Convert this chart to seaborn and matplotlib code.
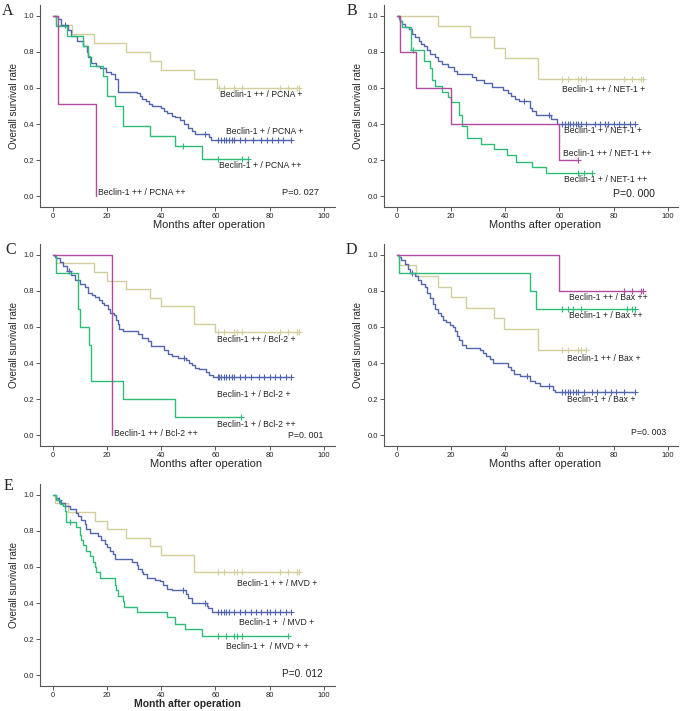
import numpy as np
import matplotlib
matplotlib.use("Agg")
import matplotlib.pyplot as plt
import seaborn as sns

# ---- colours of the four groups
TAN = "#d3cf9c"
BLUE = "#5266b0"
GREEN = "#2dbd78"
MAGENTA = "#b04c9c"

# ---- Panel A : Beclin-1 / PCNA
A_tan_t = [0, 1, 7, 15, 27, 36, 40, 52, 60.5]
A_tan_s = [1.0, 0.95, 0.90, 0.85, 0.80, 0.75, 0.70, 0.65, 0.60]
A_tan_c = [61.5, 63, 67, 70, 84, 87, 90, 91]
A_blue_t = [0, 2, 3, 5.5, 6.5, 9, 11, 12.5, 13, 14, 16, 17.5, 19.5, 21.5, 23, 24, 31, 32, 33,
            34.5, 35.5, 36.5, 40, 41, 42, 44, 45, 47, 48.5, 50, 51.5, 52.5, 57.5, 58.5]
A_blue_s = [1.0, 0.98, 0.95, 0.92, 0.89, 0.86, 0.83, 0.80, 0.77, 0.74, 0.72, 0.71, 0.69, 0.68,
            0.65, 0.58, 0.57, 0.555, 0.54, 0.525, 0.51, 0.50, 0.49, 0.475, 0.46, 0.445, 0.44,
            0.42, 0.40, 0.38, 0.36, 0.345, 0.33, 0.31]
A_blue_c = [4.5, 56, 61, 62, 63, 64, 65, 66, 67, 69, 71, 74, 77, 79, 81, 83, 85, 88]
A_green_t = [0, 1, 5, 11, 13, 13.7, 18.5, 20, 23, 26, 36, 45, 55]
A_green_s = [1.0, 0.944, 0.889, 0.833, 0.778, 0.722, 0.667, 0.556, 0.50, 0.389, 0.333, 0.278, 0.208]
A_green_c = [48, 61, 70, 72]
A_mag_t = [0, 2, 16]
A_mag_s = [1.0, 0.51, 0.0]
A_mag_c = []
A_labels = ["Beclin-1 ++ / PCNA +", "Beclin-1 + / PCNA +", "Beclin-1 + / PCNA ++",
            "Beclin-1 ++ / PCNA ++", "P=0. 027"]

# ---- Panel B : Beclin-1 / NET-1
B_tan_t = [0, 15, 27, 36, 40, 52]
B_tan_s = [1.0, 0.941, 0.882, 0.824, 0.765, 0.647]
B_tan_c = [61, 63, 67, 68, 70, 84, 87, 90, 91]
B_blue_t = [0, 0.6, 1.2, 1.8, 3, 4.3, 5.5, 6.7, 8, 9, 9.8, 11, 12.3, 14, 15.3, 16.6, 19, 21, 22,
            27.6, 29, 32, 35, 39, 41, 42, 43.5, 45, 49, 50, 51.5, 57, 59]
B_blue_s = [1.0, 0.985, 0.97, 0.955, 0.94, 0.925, 0.90, 0.88, 0.86, 0.845, 0.83, 0.81, 0.79,
            0.77, 0.75, 0.735, 0.715, 0.695, 0.675, 0.66, 0.645, 0.625, 0.605, 0.59, 0.57,
            0.555, 0.54, 0.525, 0.49, 0.47, 0.45, 0.43, 0.40]
B_blue_c = [47, 56, 61, 62, 63, 64, 65, 66, 67, 68, 70, 73, 75, 77, 78, 80, 82, 84, 86, 88]
B_green_t = [0, 1, 2, 5, 9.8, 12, 13, 14, 16.5, 19, 20, 23, 24, 26, 31, 36, 40.5, 44, 50, 55]
B_green_s = [1.0, 0.97, 0.94, 0.81, 0.75, 0.71, 0.645, 0.61, 0.58, 0.55, 0.52, 0.45, 0.39,
             0.32, 0.29, 0.26, 0.23, 0.19, 0.16, 0.13]
B_green_c = [6, 67, 69, 72]
B_mag_t = [0, 1, 7, 20, 60]
B_mag_s = [1.0, 0.8, 0.6, 0.4, 0.2]
B_mag_c = [67]
B_labels = ["Beclin-1 ++ / NET-1 +", "Beclin-1 + / NET-1 +", "Beclin-1 ++ / NET-1 ++",
            "Beclin-1 + / NET-1 ++", "P=0. 000"]

# ---- Panel C : Beclin-1 / Bcl-2
C_tan_t = [0, 1, 15, 20, 27, 36, 40, 52, 60]
C_tan_s = [1.0, 0.952, 0.905, 0.857, 0.810, 0.762, 0.714, 0.619, 0.571]
C_tan_c = [61, 63, 67, 68, 70, 84, 87, 90, 91]
C_blue_t = [0, 0.6, 1.2, 2.5, 3.7, 5, 6.5, 8, 10, 11.7, 13, 14.5, 15.5, 17, 18, 19, 20.2, 21.2,
            22.7, 23.3, 24, 24.5, 26, 29.4, 31.3, 33, 35, 36.2, 41, 42.3, 44, 46, 49, 50.3,
            51.5, 52.5, 54, 56.4, 57.7, 59]
C_blue_s = [1.0, 0.99, 0.98, 0.96, 0.94, 0.91, 0.89, 0.86, 0.84, 0.82, 0.79, 0.775, 0.765, 0.75,
            0.735, 0.72, 0.70, 0.68, 0.665, 0.64, 0.615, 0.59, 0.58, 0.575, 0.56, 0.54, 0.52,
            0.495, 0.47, 0.45, 0.44, 0.43, 0.415, 0.40, 0.39, 0.375, 0.365, 0.35, 0.335, 0.32]
C_blue_c = [6, 48.5, 61, 61.5, 62, 63, 64, 65, 66, 67, 69, 71, 73, 76, 78, 80, 82, 84, 86, 88]
C_green_t = [0, 1, 9.2, 10, 13.3, 14.1, 26, 45]
C_green_s = [1.0, 0.9, 0.7, 0.6, 0.5, 0.3, 0.2, 0.1]
C_green_c = [69.5]
C_mag_t = [0, 21.7]
C_mag_s = [1.0, 0.0]
C_mag_c = []
C_labels = ["Beclin-1 ++ / Bcl-2 +", "Beclin-1 + / Bcl-2 +", "Beclin-1 + / Bcl-2 ++",
            "Beclin-1 ++ / Bcl-2 ++", "P=0. 001"]

# ---- Panel D : Beclin-1 / Bax
D_tan_t = [0, 0.7, 7, 15, 20, 25.3, 35.8, 39.7, 52]
D_tan_s = [1.0, 0.941, 0.882, 0.824, 0.765, 0.706, 0.647, 0.588, 0.471]
D_tan_c = [61, 63, 67, 68, 70]
D_blue_t = [0, 0.7, 1.6, 2.8, 4, 4.7, 6.5, 7.7, 9, 10.2, 11, 12, 13.3, 14, 15, 16.4, 17, 18.2,
            19.4, 20.7, 21.3, 22, 23, 24, 25.3, 30.5, 31.7, 33, 34.2, 35.4, 41, 42.2, 43.4,
            45.3, 49, 51, 53, 57.6, 58.5]
D_blue_s = [1.0, 0.99, 0.97, 0.95, 0.92, 0.90, 0.88, 0.86, 0.84, 0.82, 0.79, 0.76, 0.73, 0.70,
            0.68, 0.66, 0.64, 0.63, 0.61, 0.60, 0.58, 0.55, 0.53, 0.50, 0.485, 0.47, 0.455,
            0.44, 0.42, 0.40, 0.38, 0.36, 0.34, 0.33, 0.30, 0.29, 0.275, 0.25, 0.24]
D_blue_c = [5.7, 48, 56, 61, 62, 63, 64, 65, 66, 67, 69, 72, 74, 77, 79, 81, 84, 88]
D_green_t = [0, 0.7, 49, 51.2]
D_green_s = [1.0, 0.9, 0.8, 0.7]
D_green_c = [61, 63, 65, 68, 85, 87, 88]
D_mag_t = [0, 60]
D_mag_s = [1.0, 0.8]
D_mag_c = [84, 87, 90, 91]
D_labels = ["Beclin-1 ++ / Bax ++", "Beclin-1 + / Bax ++", "Beclin-1 ++ / Bax +",
            "Beclin-1 + / Bax +", "P=0. 003"]

# ---- Panel E : Beclin-1 / MVD
E_tan_t = [0, 0.6, 5.6, 15.4, 20, 27, 35.8, 40, 52]
E_tan_s = [1.0, 0.952, 0.905, 0.857, 0.81, 0.762, 0.714, 0.667, 0.571]
E_tan_c = [61, 63, 67, 68, 70, 84, 87, 90, 91]
E_blue_t = [0, 1.2, 1.8, 3, 4.3, 6.2, 8.6, 9.2, 10.5, 11.7, 12.3, 13.6, 16.7, 17.9, 19.1, 19.8,
            21, 22.2, 22.8, 29, 30.9, 31.5, 32.7, 33.3, 34.6, 37.7, 39.5, 40.7, 42, 43.8, 49,
            50, 51.2, 56.8, 57.4, 58.6]
E_blue_s = [1.0, 0.98, 0.97, 0.955, 0.94, 0.92, 0.90, 0.88, 0.86, 0.84, 0.81, 0.79, 0.77, 0.75,
            0.73, 0.71, 0.69, 0.67, 0.645, 0.63, 0.61, 0.59, 0.57, 0.56, 0.54, 0.53, 0.52, 0.50,
            0.48, 0.47, 0.45, 0.43, 0.40, 0.385, 0.37, 0.35]
E_blue_c = [2.2, 48, 56.2, 61, 62, 63, 64, 65, 67, 69, 71, 73, 75, 77, 79, 80, 82, 84, 86, 88]
E_green_t = [0, 1.2, 2.5, 3.5, 4.3, 4.9, 8.6, 9.9, 10.5, 11.1, 12.3, 13.6, 14.8, 15.4, 16, 17.3,
             22.8, 23.4, 24, 25.9, 26.2, 30.9, 42, 45, 48.8, 55]
E_green_s = [1.0, 0.97, 0.95, 0.94, 0.91, 0.85, 0.82, 0.78, 0.75, 0.72, 0.69, 0.66, 0.63, 0.60,
             0.57, 0.54, 0.50, 0.47, 0.44, 0.41, 0.38, 0.35, 0.32, 0.285, 0.255, 0.22]
E_green_c = [6.2, 61, 64, 67, 68, 70, 87]
E_labels = ["Beclin-1 + + / MVD +", "Beclin-1 +  / MVD +", "Beclin-1 +  / MVD + +", "P=0. 012"]

sns.set_style("ticks")
plt.rcParams["font.family"] = ["Liberation Sans", "DejaVu Sans"]


def draw_curve(ax, t, s, cens, color):
    t = list(t)
    s = list(s)
    end = max(cens) if cens else t[-1]
    x = t + ([end] if end > t[-1] else [])
    y = s + ([s[-1]] if end > t[-1] else [])
    sns.lineplot(x=x, y=y, drawstyle="steps-post", estimator=None, sort=False,
                 color=color, linewidth=1.0, ax=ax)
    if cens:
        idx = np.searchsorted(t, cens, side="right") - 1
        cy = np.array(s)[idx]
        ax.plot(cens, cy, linestyle="none", marker="+", markersize=4,
                markeredgewidth=0.8, color=color)


def style_axes(ax, xlabel, label_x, bold=False):
    ax.set_xlim(-5, 104)
    ax.set_ylim(-0.06, 1.06)
    ax.set_xticks([0, 20, 40, 60, 80, 100])
    ax.set_yticks([0.0, 0.2, 0.4, 0.6, 0.8, 1.0])
    ax.set_yticklabels(["0.0", "0.2", "0.4", "0.6", "0.8", "1.0"])
    for side in ["top", "right"]:
        ax.spines[side].set_visible(False)
    for side in ["left", "bottom"]:
        ax.spines[side].set_color("#555555")
        ax.spines[side].set_linewidth(0.8)
    ax.tick_params(axis="both", labelsize=5.5, length=3, width=0.7, color="#555555",
                   labelcolor="#222222", pad=1)
    ax.set_xlabel(xlabel, fontsize=7.5 if bold else 8, fontweight="bold" if bold else "normal")
    # label placed just under the tick labels
    ax.xaxis.set_label_coords(label_x, -0.066)
    ax.set_ylabel("Overall survival rate", fontsize=7, labelpad=3)


fig = plt.figure(figsize=(6.85, 7.11), dpi=100)
W, H = 685.0, 711.0


def make_axes(left_px, bottom_px):
    return fig.add_axes([left_px / W, (H - bottom_px) / H, 295 / W, 202 / H])


panels = [
    ("A", make_axes(39.5, 207), (2, 3), 0.575,
     [(A_tan_t, A_tan_s, A_tan_c, TAN), (A_blue_t, A_blue_s, A_blue_c, BLUE),
      (A_green_t, A_green_s, A_green_c, GREEN), (A_mag_t, A_mag_s, A_mag_c, MAGENTA)],
     A_labels, [(61.7, 0.561), (64, 0.358), (61.2, 0.17), (16.8, 0.018), (84.6, 0.018)], 6.6),
    ("B", make_axes(383.5, 207), (347, 3), 0.547,
     [(B_tan_t, B_tan_s, B_tan_c, TAN), (B_blue_t, B_blue_s, B_blue_c, BLUE),
      (B_green_t, B_green_s, B_green_c, GREEN), (B_mag_t, B_mag_s, B_mag_c, MAGENTA)],
     B_labels, [(61.1, 0.594), (61.6, 0.363), (61.4, 0.238), (61.6, 0.092), (79.8, 0.013)], 7.6),
    ("C", make_axes(39.5, 446), (5, 242), 0.564,
     [(C_tan_t, C_tan_s, C_tan_c, TAN), (C_blue_t, C_blue_s, C_blue_c, BLUE),
      (C_green_t, C_green_s, C_green_c, GREEN), (C_mag_t, C_mag_s, C_mag_c, MAGENTA)],
     C_labels, [(60.7, 0.53), (60.7, 0.226), (60.7, 0.061), (22.7, 0.011), (87, -0.004)], 6.3),
    ("D", make_axes(383.5, 446), (346, 242), 0.549,
     [(D_tan_t, D_tan_s, D_tan_c, TAN), (D_blue_t, D_blue_s, D_blue_c, BLUE),
      (D_green_t, D_green_s, D_green_c, GREEN), (D_mag_t, D_mag_s, D_mag_c, MAGENTA)],
     D_labels, [(63.7, 0.765), (63.5, 0.663), (62.9, 0.426), (62.9, 0.2), (86.5, 0.015)], 6.3),
    ("E", make_axes(39.5, 686), (4, 478), 0.5,
     [(E_tan_t, E_tan_s, E_tan_c, TAN), (E_blue_t, E_blue_s, E_blue_c, BLUE),
      (E_green_t, E_green_s, E_green_c, GREEN)],
     E_labels, [(68.1, 0.51), (68.6, 0.29), (63.9, 0.157), (84.6, 0.009)], 7.2),
]

for letter, ax, (lx, ly), label_x, curves, labels, label_pos, p_size in panels:
    for t, s, c, col in curves:
        draw_curve(ax, t, s, c, col)
    for txt, (x, y) in zip(labels, label_pos):
        is_p = txt.startswith("P=")
        ax.text(x, y, txt, fontsize=p_size if is_p else 6.2, color="#222222",
                ha="left", va="center")
    if letter == "E":
        style_axes(ax, "Month after operation", label_x, bold=True)
    else:
        style_axes(ax, "Months after operation", label_x)
    fig.text(lx / W, 1 - ly / H, letter, fontsize=11.5, family="Liberation Serif",
             ha="left", va="top")

fig.savefig("out.png", dpi=100)
